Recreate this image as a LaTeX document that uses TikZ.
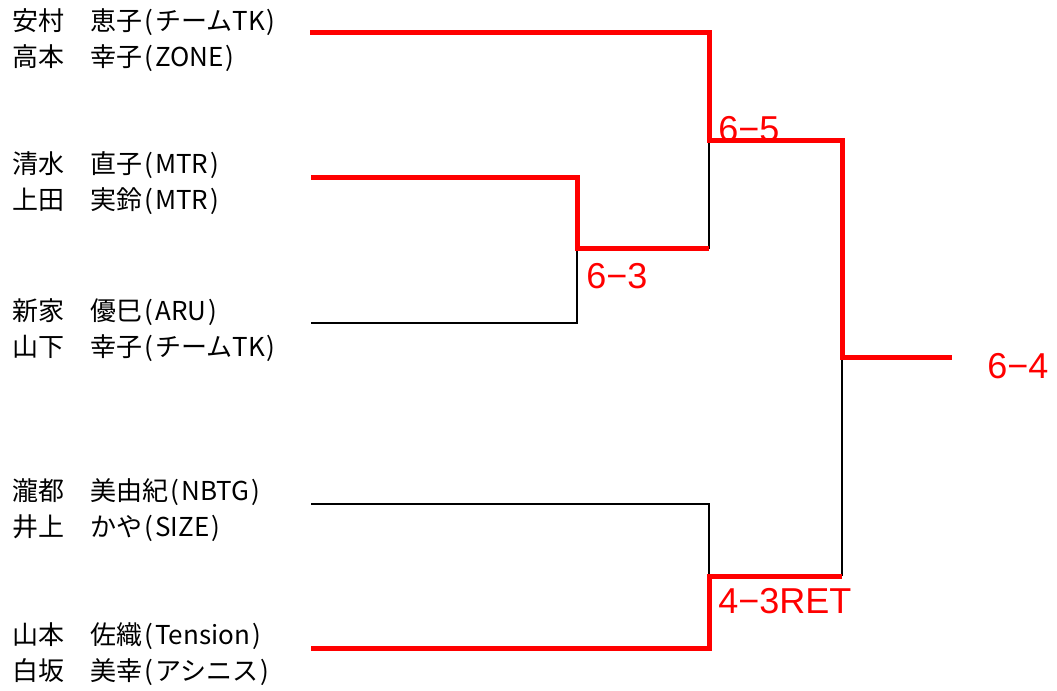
\documentclass[tikz,border=0pt]{standalone}
\usepackage{fontspec}
\setmainfont{Noto Sans CJK JP}
\newfontfamily\scorefont{Liberation Sans}
\newcommand\po{\makebox[0.5em]{(}}
\newcommand\pc{\makebox[0.5em]{)}}

\tikzset{
  team/.style={anchor=west, inner sep=0pt, align=left, font=\fontsize{19.5}{27}\selectfont},
  score/.style={anchor=west, inner sep=0pt, text=red, font=\scorefont\fontsize{27}{30}\selectfont},
  lose/.style={line width=1.5pt, black},
  win/.style={line width=3.75pt, red, line join=miter}
}

\begin{document}
\begin{tikzpicture}[x=0.75pt, y=-0.75pt]
    \useasboundingbox (0,0) rectangle (1057,691);

    % Teams
    \node[team] (t1) at (12,40) {安村　恵子\po チームTK\pc\\高本　幸子\po ZONE\pc};
    \node[team] (t2) at (12,183) {清水　直子\po MTR\pc\\上田　実鈴\po MTR\pc};
    \node[team] (t3) at (12,330) {新家　優巳\po ARU\pc\\山下　幸子\po チームTK\pc};
    \node[team] (t4) at (12,510) {瀧都　美由紀\po NBTG\pc\\井上　かや\po SIZE\pc};
    \node[team] (t5) at (12,654) {山本　佐織\po Tension\pc\\白坂　美幸\po アシニス\pc};

    % Line ends and junctions
    \coordinate (e1) at (310,33);
    \coordinate (e2) at (311,178);
    \coordinate (e3) at (311,323);
    \coordinate (e4) at (311,504);
    \coordinate (e5) at (311,648);
    \coordinate (j23) at (577,249);
    \coordinate (j123) at (709,141);
    \coordinate (j45) at (709,576);
    \coordinate (fin) at (842,358);
    \coordinate (champ) at (952,358);

    % Losing lines
    \draw[lose] (e3) -| (j23);
    \draw[lose] (j23 -| j123) -- (j123);
    \draw[lose] (e4) -| (j45);
    \draw[lose] (j45 -| fin) -- (fin);

    % Winning lines
    \draw[win] (e1) -| (j123) -| (fin) -- (champ);
    \draw[win] (e2) -| (j23) -- (j23 -| j123);
    \draw[win] (e5) -| (j45) -- (j45 -| fin);

    % Scores
    \node[score] (s23) at (586,276) {6−3};
    \node[score] (s123) at (718,129) {6−5};
    \node[score] (s45) at (718,601) {4−3RET};
    \node[score] (sfin) at (987,366) {6−4};
\end{tikzpicture}
\end{document}
